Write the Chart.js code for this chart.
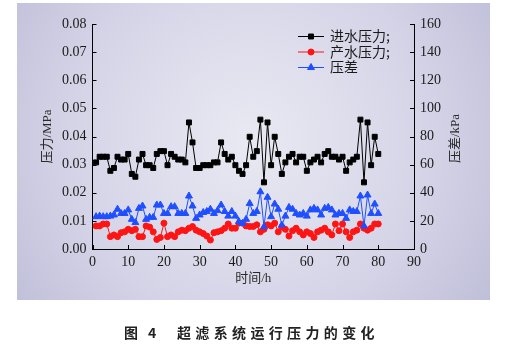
<!DOCTYPE html>
<html><head><meta charset="utf-8">
<script src="https://cdn.jsdelivr.net/npm/chart.js@4.4.1/dist/chart.umd.min.js"></script>
<style>
html,body{margin:0;padding:0;background:#fff;}
#wrap{position:relative;width:508px;height:348px;}
canvas{position:absolute;left:0;top:0;}
</style></head><body>
<div id="wrap"><canvas id="c" width="508" height="348"></canvas></div>
<script>
// ---- data ----
const hours = [1,2,3,4,5,6,7,8,9,10,11,12,13,14,15,16,17,18,19,20,
  21,22,23,24,25,26,27,28,29,30,31,32,33,34,35,36,37,38,39,40,
  41,42,43,44,45,46,47,48,49,50,51,52,53,54,55,56,57,58,59,60,
  61,62,63,64,65,66,67,68,69,70,71,72,73,74,75,76,77,78,79,80];
const inletPressure = [0.0308,0.0328,0.0328,0.0328,0.0278,0.0288,0.0328,0.0318,0.0318,0.0338,
  0.0267,0.0257,0.0318,0.0338,0.0298,0.0298,0.0288,0.0338,0.0348,0.0348,
  0.0298,0.0338,0.0328,0.0318,0.0318,0.0308,0.0450,0.0379,0.0288,0.0288,
  0.0298,0.0298,0.0298,0.0308,0.0308,0.0379,0.0338,0.0318,0.0328,0.0298,
  0.0278,0.0267,0.0298,0.0399,0.0328,0.0348,0.0460,0.0237,0.0450,0.0298,
  0.0399,0.0338,0.0267,0.0308,0.0328,0.0338,0.0308,0.0328,0.0328,0.0278,
  0.0308,0.0318,0.0328,0.0308,0.0338,0.0348,0.0328,0.0328,0.0318,0.0328,
  0.0278,0.0308,0.0318,0.0328,0.0460,0.0237,0.0450,0.0298,0.0399,0.0338];
const productPressure = [0.0082,0.0082,0.0089,0.0089,0.0044,0.0050,0.0044,0.0058,0.0061,0.0070,
  0.0065,0.0070,0.0044,0.0044,0.0082,0.0078,0.0061,0.0034,0.0041,0.0092,
  0.0044,0.0050,0.0044,0.0061,0.0067,0.0065,0.0074,0.0080,0.0067,0.0061,
  0.0055,0.0046,0.0032,0.0058,0.0061,0.0065,0.0074,0.0089,0.0074,0.0074,
  0.0092,0.0092,0.0082,0.0080,0.0080,0.0086,0.0061,0.0070,0.0086,0.0082,
  0.0092,0.0061,0.0078,0.0070,0.0046,0.0065,0.0074,0.0061,0.0050,0.0061,
  0.0055,0.0041,0.0061,0.0067,0.0074,0.0061,0.0050,0.0089,0.0065,0.0089,
  0.0061,0.0041,0.0061,0.0067,0.0089,0.0074,0.0067,0.0074,0.0089,0.0089];
const pressureDiff = [23.0,23.4,23.0,23.0,23.4,24.2,28.3,25.3,25.3,27.8,
  21.1,18.8,28.9,30.6,21.1,22.5,22.5,31.3,31.3,25.3,
  25.3,30.1,30.1,25.3,25.3,25.3,37.7,30.6,21.8,24.2,
  26.0,26.7,28.3,25.3,27.3,31.3,26.7,23.4,26.7,23.4,
  19.4,18.2,21.1,32.4,25.3,26.7,40.7,15.8,36.8,23.0,
  32.0,28.3,17.0,23.4,29.6,28.3,25.3,24.2,25.3,23.4,
  27.8,28.9,27.8,24.2,28.9,29.6,27.8,24.2,25.3,25.3,
  21.8,27.8,26.7,26.7,37.7,16.3,38.4,25.3,32.0,25.3];
const seriesNames = ['进水压力;','产水压力;','压差'];
const xTitle = '时间/h';
const yTitle = '压力/MPa';
const y2Title = '压差/kPa';
const caption = ['图','4','超滤系统运行压力的变化'];

const pts = arr => hours.map((h,i)=>({x:h,y:arr[i]}));
const C_BLACK='#000000', C_RED='#ff1414', C_BLUE='#1f4fff';
const tickFont = {family:'"Liberation Serif", "Times New Roman", serif', size:14};

const bgPlugin = {
  id:'bg',
  beforeDraw(chart){
    const ctx=chart.ctx;
    ctx.save();
    ctx.fillStyle='#fff';
    ctx.fillRect(0,0,chart.width,chart.height);
    const g=ctx.createRadialGradient(250,140,10,250,140,300);
    g.addColorStop(0,'#e8e8f2');
    g.addColorStop(0.55,'#d6d5e8');
    g.addColorStop(1,'#bebdd8');
    ctx.fillStyle=g;
    ctx.fillRect(17,3,473,297);
    ctx.restore();
  },
  afterDraw(chart){
    const ctx=chart.ctx, a=chart.chartArea;
    ctx.save();
    ctx.strokeStyle='#000'; ctx.lineWidth=1;
    const xs=chart.scales.x, yl=chart.scales.y, yr=chart.scales.y1;
    ctx.beginPath();
    xs.ticks.forEach(t=>{const p=Math.round(xs.getPixelForValue(t.value))+0.5; ctx.moveTo(p,a.bottom); ctx.lineTo(p,a.bottom-4);});
    yl.ticks.forEach(t=>{const p=Math.round(yl.getPixelForValue(t.value))+0.5; ctx.moveTo(a.left,p); ctx.lineTo(a.left+4,p);});
    yr.ticks.forEach(t=>{const p=Math.round(yr.getPixelForValue(t.value))+0.5; ctx.moveTo(a.right,p); ctx.lineTo(a.right-4,p);});
    ctx.stroke();
    // axis titles
    ctx.fillStyle='#2a2a2a';
    ctx.font='13px "Liberation Serif", "Noto Sans CJK SC"';
    ctx.textAlign='center'; ctx.textBaseline='middle';
    ctx.fillText(xTitle,(a.left+a.right)/2,279);
    ctx.save(); ctx.translate(48,(a.top+a.bottom)/2); ctx.rotate(-Math.PI/2); ctx.fillText(yTitle,0,0); ctx.restore();
    ctx.save(); ctx.translate(456,(a.top+a.bottom)/2+2); ctx.rotate(-Math.PI/2); ctx.fillText(y2Title,0,0); ctx.restore();
    // legend
    const ds=chart.data.datasets;
    const ly=[36,51.5,67];
    ds.forEach((d,i)=>{
      const y=ly[i];
      ctx.strokeStyle=d.borderColor; ctx.lineWidth=1;
      ctx.beginPath(); ctx.moveTo(298,y+0.5); ctx.lineTo(324,y+0.5); ctx.stroke();
      ctx.fillStyle=d.backgroundColor;
      Chart.helpers.drawPoint(ctx,{pointStyle:d.pointStyle,radius:d.pointRadius,borderWidth:1,rotation:0},311,y+0.5);
      ctx.fillStyle='#1a1a1a';
      ctx.font='14px "Noto Sans CJK SC"';
      ctx.textAlign='left'; ctx.textBaseline='middle';
      ctx.fillText(d.label,330,y);
    });
    // caption
    ctx.fillStyle='#222';
    ctx.font='bold 14px "Noto Sans CJK SC"';
    ctx.textAlign='left'; ctx.textBaseline='middle';
    ctx.fillText(caption[0],124,333);
    ctx.fillText(caption[1],148,333);
    const chars=[...caption[2]];
    chars.forEach((ch,i)=>ctx.fillText(ch,177+i*18.35,333));
    ctx.restore();
  }
};

new Chart(document.getElementById('c'),{
  type:'line',
  data:{datasets:[
    {label:seriesNames[0],data:pts(inletPressure),yAxisID:'y',borderColor:C_BLACK,backgroundColor:C_BLACK,borderWidth:1,
     pointStyle:'rect',pointRadius:3.5,pointBorderWidth:1,tension:0,order:3},
    {label:seriesNames[1],data:pts(productPressure),yAxisID:'y',borderColor:C_RED,backgroundColor:C_RED,borderWidth:1,
     pointStyle:'circle',pointRadius:3,pointBorderWidth:1,tension:0,order:2},
    {label:seriesNames[2],data:pts(pressureDiff),yAxisID:'y1',borderColor:C_BLUE,backgroundColor:C_BLUE,borderWidth:1,
     pointStyle:'triangle',pointRadius:4,pointBorderWidth:1,tension:0,order:1}
  ]},
  options:{
    responsive:false,animation:false,devicePixelRatio:1,
    layout:{padding:{top:24,left:0,right:0,bottom:0}},
    plugins:{legend:{display:false},tooltip:{enabled:false}},
    scales:{
      x:{type:'linear',min:0,max:90,
        ticks:{stepSize:10,padding:5,font:tickFont,color:'#1a1a1a',maxRotation:0,autoSkip:false},
        grid:{display:true,drawOnChartArea:false,drawTicks:false},
        border:{display:true,color:'#000',width:1},
        afterFit(s){s.height=99;}},
      y:{type:'linear',position:'left',min:0,max:0.08,
        ticks:{stepSize:0.01,padding:6,font:tickFont,color:'#1a1a1a',callback:v=>Number(v).toFixed(2)},
        grid:{display:true,drawOnChartArea:false,drawTicks:false},
        border:{display:true,color:'#000',width:1},
        afterFit(s){s.width=92.5;}},
      y1:{type:'linear',position:'right',min:0,max:160,
        ticks:{stepSize:20,padding:6,font:tickFont,color:'#1a1a1a'},
        grid:{display:true,drawOnChartArea:false,drawTicks:false},
        border:{display:true,color:'#000',width:1},
        afterFit(s){s.width=94;}}
    }
  },
  plugins:[bgPlugin]
});
</script>
</body></html>
